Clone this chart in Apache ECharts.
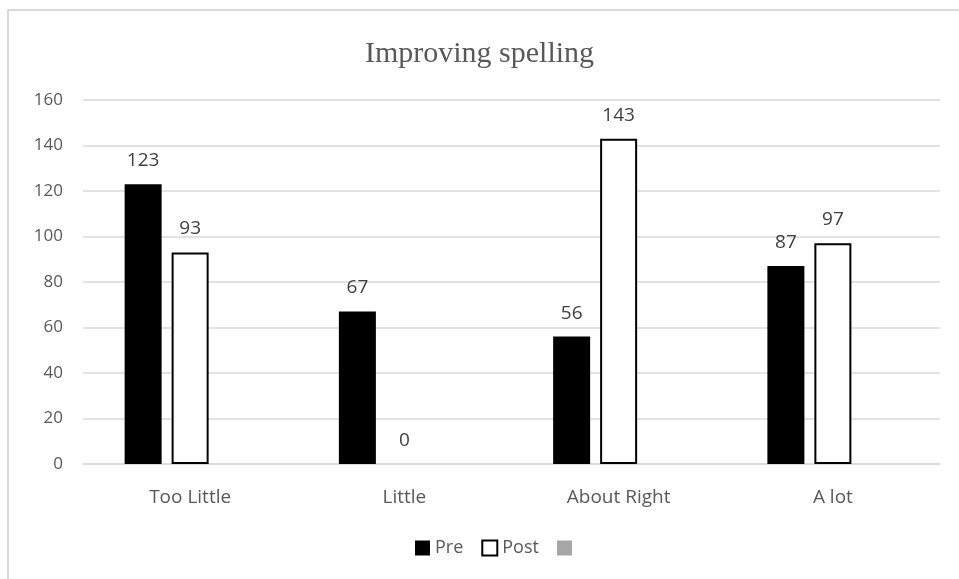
<!DOCTYPE html>
<html>
<head>
<meta charset="utf-8">
<script src="https://cdn.jsdelivr.net/npm/echarts@6/dist/echarts.min.js"></script>
<style>
  html, body { margin: 0; padding: 0; background: #fff; }
  #chart { width: 959px; height: 579px; }
</style>
</head>
<body>
<div id="chart"></div>
<script>
var categories = ['Too Little', 'Little', 'About Right', 'A lot'];
var preValues = [123, 67, 56, 87];
var postValues = [93, 0, 143, 97];
var thirdValues = [null, null, null, null];
var yTicks = [0, 20, 40, 60, 80, 100, 120, 140, 160];

var chart = echarts.init(document.getElementById('chart'));
var labelFont = 'Open Sans, Noto Sans, sans-serif';

// a zero bar shows only its label, no outline
var postData = postValues.map(function(v) {
    return v === 0 ? { value: v, itemStyle: { borderWidth: 0 } } : v;
});

var option = {
    animation: false,
    backgroundColor: '#fff',
    graphic: [{
        type: 'rect',
        shape: { x: 8, y: 10, width: 1000, height: 700 },
        style: { fill: 'none', stroke: '#d9d9d9', lineWidth: 2 },
        silent: true
    }],
    title: {
        text: 'Improving spelling',
        left: 'center',
        top: 34,
        textStyle: {
            fontFamily: 'Liberation Serif, Times New Roman, serif',
            fontWeight: 'normal',
            fontSize: 30,
            color: '#595959'
        }
    },
    legend: {
        bottom: 17,
        left: 410,
        icon: 'rect',
        itemWidth: 15,
        itemHeight: 15,
        itemGap: 18,
        data: ['Pre', 'Post', ' '],
        textStyle: { fontFamily: labelFont, fontSize: 18, color: '#595959' }
    },
    grid: { left: 83, right: 19, top: 100, bottom: 115 },
    xAxis: {
        type: 'category',
        data: categories,
        axisLine: { lineStyle: { color: '#d9d9d9', width: 1.5 } },
        axisTick: { show: false },
        axisLabel: { fontFamily: labelFont, fontSize: 19, color: '#595959', margin: 24 }
    },
    yAxis: {
        type: 'value',
        min: yTicks[0],
        max: yTicks[yTicks.length - 1],
        interval: 20,
        axisLine: { show: false },
        axisTick: { show: false },
        splitLine: { lineStyle: { color: '#d9d9d9', width: 1.5 } },
        axisLabel: { fontFamily: labelFont, fontSize: 17, color: '#595959', margin: 20 }
    },
    series: [{
        name: 'Pre',
        type: 'bar',
        data: preValues,
        barWidth: 37,
        barGap: '27%',
        itemStyle: { color: '#000' },
        label: { show: true, position: 'top', distance: 14, fontFamily: labelFont, fontSize: 19, color: '#404040' }
    }, {
        name: 'Post',
        type: 'bar',
        data: postData,
        barWidth: 37,
        barGap: '27%',
        itemStyle: { color: '#fff', borderColor: '#000', borderWidth: 2 },
        label: { show: true, position: 'top', distance: 14, fontFamily: labelFont, fontSize: 19, color: '#404040' }
    }, {
        name: ' ',
        type: 'bar',
        data: thirdValues,
        barWidth: 37,
        barGap: '27%',
        itemStyle: { color: '#a6a6a6' }
    }]
};

chart.setOption(option);
</script>
</body>
</html>
